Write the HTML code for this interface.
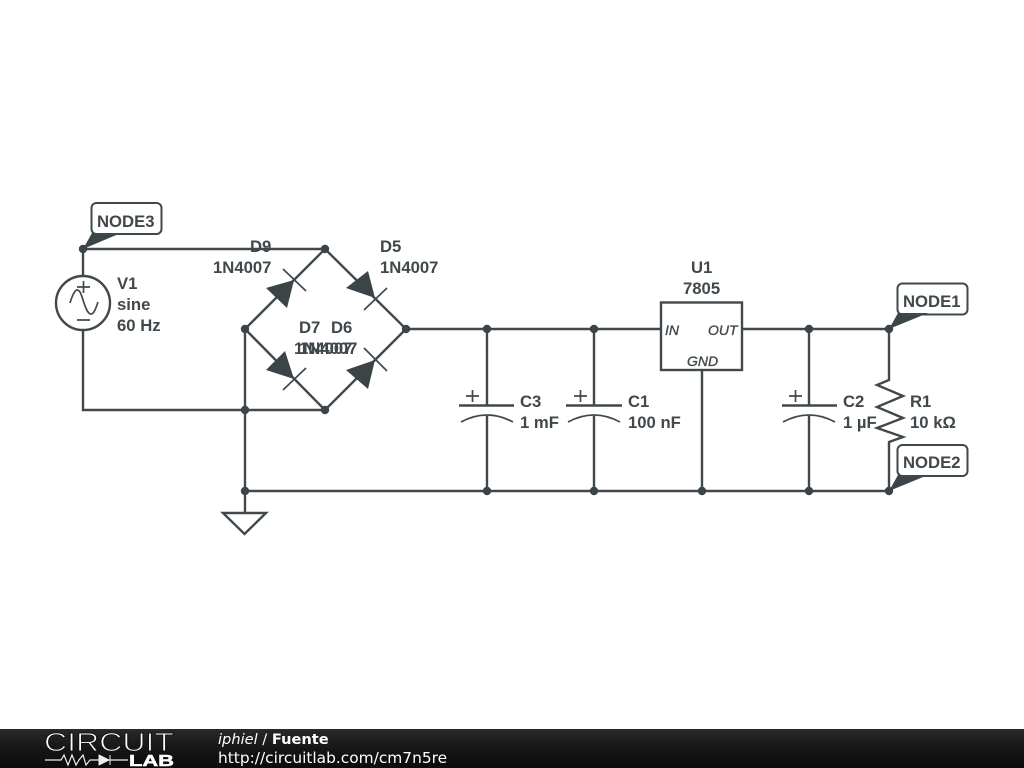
<!DOCTYPE html>
<html><head><meta charset="utf-8"><style>
html,body{margin:0;padding:0;background:#fff;width:1024px;height:768px;overflow:hidden}
svg{display:block}
.l{font:bold 16.700px "Liberation Sans",sans-serif;fill:#41484b}
.i{font:italic 14px "Liberation Sans",sans-serif;fill:#41484b;stroke:#41484b;stroke-width:.35}
.w{fill:none;stroke:#41484b;stroke-width:2.4}
.t{fill:none;stroke:#41484b;stroke-width:1.7}
.f{fill:#3b4447;stroke:none}
</style></head><body>
<svg width="1024" height="768" viewBox="0 0 1024 768" xmlns="http://www.w3.org/2000/svg">
<defs><linearGradient id="g" x1="0" y1="0" x2="0" y2="1"><stop offset="0" stop-color="#2a2a2a"/><stop offset="0.5" stop-color="#161616"/><stop offset="1" stop-color="#0b0b0b"/></linearGradient></defs>
<rect width="1024" height="768" fill="#fff"/>

<!-- wires -->
<path class="w" d="M83 276V249H325L406 329L325 410L245 329L325 249M83 330V410H325M245 329V491M245 491H889M406 329H661M742 329H889M702 370V491M245 491V513M487 329V405M487 416V491M594 329V405M594 416V491M809 329V405M809 416V491M889 329V380L877 385L903 396L877 407L903 418L877 428L903 437L889 442V491"/>

<!-- source -->
<circle class="w" cx="83" cy="303" r="27"/>
<path class="t" d="M77 287H90M83.500 281V293M77 320H90M70 303C72 296 75 290 77 290C81 290 82 298 84 303C86 309 88 314 91 314C94 314 96 308 98 302"/>

<!-- diodes -->
<path class="f" d="M294 280L266 288L287 308ZM375 298L346 288L368 271ZM294 379L266 370L285 351ZM375 360L346 370L368 389Z"/>
<path class="t" d="M283 269L306 291M364 310L387 288M283 390L306 368M364 348L387 371"/>

<!-- regulator -->
<rect class="w" x="661" y="302.500" width="81" height="67.500"/>
<text class="i" x="665" y="335">IN</text>
<text class="i" x="708" y="335">OUT</text>
<text class="i" x="687" y="366">GND</text>

<!-- capacitors -->
<path class="w" d="M459 405.500H514M566 405.500H622M782 405.500H837"/>
<path class="t" d="M461 422Q487 408 513 422M568 422Q594 408 620 422M783 422Q809 408 835 422"/>
<path class="t" d="M466 396H479M472.500 390V402M574 396H587M580.500 390V402M789 396H802M795.500 390V402"/>

<!-- ground -->
<path class="w" d="M223 513H266L244.500 534Z"/>

<!-- dots -->
<g fill="#3b4447">
<circle cx="83" cy="249" r="4.200"/><circle cx="325" cy="249" r="4.200"/><circle cx="245" cy="329" r="4.200"/><circle cx="406" cy="329" r="4.200"/><circle cx="325" cy="410" r="4.200"/><circle cx="245" cy="410" r="4.200"/><circle cx="245" cy="491" r="4.200"/><circle cx="487" cy="329" r="4.200"/><circle cx="594" cy="329" r="4.200"/><circle cx="809" cy="329" r="4.200"/><circle cx="889" cy="329" r="4.200"/><circle cx="487" cy="491" r="4.200"/><circle cx="594" cy="491" r="4.200"/><circle cx="702" cy="491" r="4.200"/><circle cx="809" cy="491" r="4.200"/><circle cx="889" cy="491" r="4.200"/>
</g>

<!-- callouts -->
<path class="f" d="M83 249L92 233H121ZM889 329L898 313H928ZM889 491L898 475H928Z"/>
<g fill="none" stroke="#41484b" stroke-width="2">
<rect x="91.500" y="203" width="70" height="31" rx="5"/>
<rect x="897.500" y="283.500" width="70" height="31" rx="5"/>
<rect x="897.500" y="445" width="70" height="31" rx="5"/>
</g>
<text class="l" x="97" y="227">NODE3</text>
<text class="l" x="903" y="307">NODE1</text>
<text class="l" x="903" y="468">NODE2</text>

<!-- labels -->
<text class="l" x="117" y="289">V1</text>
<text class="l" x="117" y="310">sine</text>
<text class="l" x="117" y="331">60 Hz</text>
<text class="l" x="250" y="252">D9</text>
<text class="l" x="213" y="273">1N4007</text>
<text class="l" x="380" y="252">D5</text>
<text class="l" x="380" y="273">1N4007</text>
<text class="l" x="299" y="333">D7</text>
<text class="l" x="331" y="333">D6</text>
<text class="l" x="294" y="354">1N4007</text>
<text class="l" x="299" y="354">1N4007</text>
<text class="l" x="691" y="273">U1</text>
<text class="l" x="683" y="294">7805</text>
<text class="l" x="520" y="407">C3</text>
<text class="l" x="520" y="428">1 mF</text>
<text class="l" x="628" y="407">C1</text>
<text class="l" x="628" y="428">100 nF</text>
<text class="l" x="843" y="407">C2</text>
<text class="l" x="843" y="428">1 µF</text>
<text class="l" x="910" y="407">R1</text>
<text class="l" x="910" y="428">10 kΩ</text>

<!-- footer -->
<rect x="0" y="729" width="1024" height="39" fill="url(#g)"/>
<text x="44" y="751" font-family="Liberation Sans,sans-serif" font-size="26" textLength="130" lengthAdjust="spacingAndGlyphs" fill="#fff" stroke="#151515" stroke-width="1">CIRCUIT</text>
<path d="M45 760H61L64 755L68 765L72 755L76 765L79 760L83 755L86 765L90 760H128" fill="none" stroke="#eee" stroke-width="1.200"/>
<path d="M99 755V765L109 760ZM110 755V765" fill="#eee" stroke="#eee"/>
<text x="129" y="766" font-family="Liberation Sans,sans-serif" font-size="16" font-weight="bold" textLength="45" lengthAdjust="spacingAndGlyphs" fill="#fff" stroke="#fff" stroke-width=".5">LAB</text>
<text x="218" y="744" font-family="DejaVu Sans,sans-serif" font-size="14.600" fill="#fff"><tspan font-style="italic">iphiel</tspan> / <tspan font-weight="bold">Fuente</tspan></text>
<text x="218" y="763" font-family="DejaVu Sans,sans-serif" font-size="15.400" fill="#fff">http://circuitlab.com/cm7n5re</text>
</svg>
</body></html>
